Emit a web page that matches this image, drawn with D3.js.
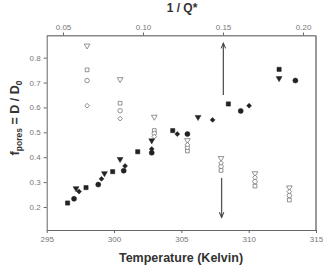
<!DOCTYPE html>
<html>
<head>
<meta charset="utf-8">
<script src="https://cdn.jsdelivr.net/npm/d3@7"></script>
<style>
  body { margin: 0; background: #fff; }
  svg { font-family: Arial, "Liberation Sans", sans-serif; }
</style>
</head>
<body>
<svg id="chart" width="323" height="268"></svg>
<script>
// temperature ticks (bottom) and 1/Q* ticks (top)
const tempTicks = [295, 300, 305, 310, 315];
const invQTicks = [0.05, 0.10, 0.15, 0.20];
const fTicks = [0.2, 0.3, 0.4, 0.5, 0.6, 0.7, 0.8];

// filled series, [T, f]
const fillSquare = [[296.55,0.216],[297.92,0.278],[299.90,0.342],[301.76,0.422],[304.36,0.507],[308.49,0.614],[312.26,0.753]];
const fillCircle = [[297.03,0.233],[298.83,0.290],[300.72,0.346],[302.80,0.418],[305.45,0.493],[309.41,0.586],[313.47,0.708]];
const fillTri    = [[297.18,0.275],[299.29,0.335],[300.45,0.392],[302.80,0.467],[306.24,0.561],[312.26,0.717]];
const fillDiam   = [[297.40,0.262],[299.07,0.313],[300.82,0.365],[302.80,0.433],[304.70,0.493],[307.32,0.550],[310.03,0.607]];

// open series (pores), [T, f]
const openTri    = [[298.0,0.848],[300.45,0.713],[302.99,0.562],[305.45,0.468],[307.95,0.396],[310.47,0.335],[313.02,0.278]];
const openSquare = [[298.0,0.751],[300.45,0.617],[302.99,0.507],[305.45,0.425],[307.95,0.347],[310.47,0.284],[313.02,0.228]];
const openCircle = [[298.0,0.708],[300.45,0.587],[302.99,0.495],[305.45,0.440],[307.95,0.363],[310.47,0.302],[313.02,0.246]];
const openDiam   = [[298.0,0.607],[300.45,0.555],[302.99,0.483],[305.45,0.450],[307.95,0.377],[310.47,0.319],[313.02,0.262]];

// arrows [T, fFrom, fTo]
const arrows = [[308.12,0.650,0.858],[307.99,0.317,0.158]];

const svg = d3.select("#chart");
const m = {left: 46.7, right: 316, top: 35.5, bottom: 230};

const x = d3.scaleLinear().domain([295, 315]).range([m.left, m.right]);
const xTop = d3.scaleLinear().domain([0.0398, 0.2081]).range([m.left, m.right]);
const y = d3.scaleLinear().domain([0.1076, 0.889]).range([m.bottom, m.top]);

// frame
svg.append("line").attr("x1", m.left).attr("x2", m.right).attr("y1", m.top).attr("y2", m.top)
  .attr("stroke", "#888").attr("stroke-width", 1);
svg.append("line").attr("x1", m.right).attr("x2", m.right).attr("y1", m.top).attr("y2", m.bottom)
  .attr("stroke", "#999").attr("stroke-width", 2);

const styleAxis = g => {
  g.select(".domain").attr("stroke", "#666");
  g.selectAll(".tick line").attr("stroke", "#666");
  g.selectAll(".tick text").attr("fill", "#777").attr("font-size", "8px");
};

svg.append("g").attr("transform", `translate(0,${m.bottom})`)
  .call(d3.axisBottom(x).tickValues(tempTicks).tickSize(3).tickSizeOuter(0).tickFormat(d3.format("d")))
  .call(styleAxis);
svg.append("g").attr("transform", `translate(0,${m.top})`)
  .call(d3.axisTop(xTop).tickValues(invQTicks).tickSize(3).tickSizeOuter(0).tickFormat(d3.format(".2f")))
  .call(styleAxis)
  .call(g => g.select(".domain").attr("stroke", "#888"));
svg.append("g").attr("transform", `translate(${m.left},0)`)
  .call(d3.axisLeft(y).tickValues(fTicks).tickSize(3).tickSizeOuter(0).tickFormat(d3.format(".1f")))
  .call(styleAxis);

// titles
svg.append("text").attr("x", 182).attr("y", 12).attr("text-anchor", "middle")
  .attr("font-size", "12px").attr("font-weight", "bold").attr("fill", "#333").text("1 / Q*");
svg.append("text").attr("x", 181).attr("y", 262).attr("text-anchor", "middle")
  .attr("font-size", "12.5px").attr("font-weight", "bold").attr("fill", "#333").text("Temperature (Kelvin)");

const yl = svg.append("text").attr("transform", "translate(19,118) rotate(-90)")
  .attr("text-anchor", "middle").attr("font-size", "12.5px").attr("font-weight", "bold").attr("fill", "#333");
yl.append("tspan").text("f");
yl.append("tspan").attr("font-size", "8.5px").attr("dy", 3).text("pores");
yl.append("tspan").attr("dy", -3).text(" = D / D");
yl.append("tspan").attr("font-size", "8.5px").attr("dy", 3).text("0");

// arrows
const defs = svg.append("defs");
defs.append("marker").attr("id", "ah").attr("viewBox", "0 0 10 10").attr("refX", 9).attr("refY", 5)
  .attr("markerWidth", 6).attr("markerHeight", 5).attr("orient", "auto-start-reverse")
  .append("path").attr("d", "M1,1.5 L9,5 L1,8.5").attr("fill", "none").attr("stroke", "#444").attr("stroke-width", 1.6);
svg.selectAll(".arrow").data(arrows).join("line").attr("class", "arrow")
  .attr("x1", d => x(d[0])).attr("x2", d => x(d[0]))
  .attr("y1", d => y(d[1])).attr("y2", d => y(d[2]))
  .attr("stroke", "#555").attr("stroke-width", 1.3).attr("marker-end", "url(#ah)");

// markers
function plot(data, type, size, filled) {
  svg.append("g").selectAll("path").data(data).join("path")
    .attr("transform", d => `translate(${x(d[0])},${y(d[1])})${type === "tri" ? " rotate(180)" : type === "diam" ? " rotate(45)" : ""}`)
    .attr("d", d3.symbol().type(type === "circle" ? d3.symbolCircle : type === "tri" ? d3.symbolTriangle : d3.symbolSquare).size(size))
    .attr("fill", filled ? "#222" : "#fff")
    .attr("stroke", filled ? "#222" : "#777")
    .attr("stroke-width", filled ? 0.5 : 0.8);
}
plot(openTri, "tri", 14, false);
plot(openSquare, "square", 14, false);
plot(openCircle, "circle", 16, false);
plot(openDiam, "diam", 11, false);

plot(fillSquare, "square", 18, true);
plot(fillCircle, "circle", 20, true);
plot(fillTri, "tri", 15, true);
plot(fillDiam, "diam", 12, true);
</script>
</body>
</html>
